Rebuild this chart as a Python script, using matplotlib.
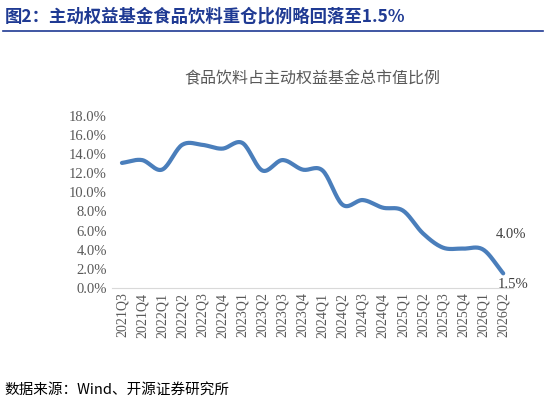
import numpy as np
import matplotlib
matplotlib.use("Agg")
import matplotlib.pyplot as plt
from matplotlib.ticker import FuncFormatter

quarters = ["2021Q3","2021Q4","2022Q1","2022Q2","2022Q3","2022Q4","2023Q1","2023Q2","2023Q3","2023Q4",
            "2024Q1","2024Q2","2024Q3","2024Q4","2025Q1","2025Q2","2025Q3","2025Q4","2026Q1","2026Q2"]
share = [13.1, 13.4, 12.4, 15.0, 15.0, 14.6, 15.2, 12.3, 13.4, 12.4,
         12.3, 8.7, 9.2, 8.4, 8.1, 5.7, 4.2, 4.1, 4.0, 1.5]

plt.rcParams['font.family'] = ['Liberation Serif', 'Noto Sans CJK SC']
fig = plt.figure(figsize=(5.46, 4.08), dpi=100)
fig.text(0.008, 0.96, "图2：主动权益基金食品饮料重仓比例略回落至1.5%", color="#1f3a93",
         fontsize=12.5, fontweight="bold", family=['Noto Sans CJK SC'], va="center")
fig.add_artist(plt.Line2D([0.005, 0.995], [0.925, 0.925], color="#1f3a93", lw=1.2))
fig.text(0.008, 0.045, "数据来源：Wind、开源证券研究所", fontsize=10.5, family=['Noto Sans CJK SC'], va="center")

ax = fig.add_axes([0.205, 0.295, 0.735, 0.42])
x = np.arange(len(share))
y = np.array(share)
xs, ys = [], []
m = np.gradient(y)
for i in range(len(y)-1):
    t = np.linspace(0, 1, 20)
    h00 = 2*t**3-3*t**2+1; h10 = t**3-2*t**2+t; h01 = -2*t**3+3*t**2; h11 = t**3-t**2
    ys.extend(h00*y[i]+h10*m[i]+h01*y[i+1]+h11*m[i+1]); xs.extend(x[i]+t)
ax.plot(xs, ys, color="#4a7ebb", lw=3, solid_capstyle="round")
ax.set_ylim(0, 18)
ax.set_yticks(np.arange(0, 18.1, 2))
ax.yaxis.set_major_formatter(FuncFormatter(lambda v, p: f"{v:.1f}%"))
ax.set_xlim(-0.5, len(share)-0.5)
ax.set_xticks(x)
ax.set_xticklabels(quarters, rotation=90, color="#595959", fontsize=10)
ax.tick_params(axis='y', labelsize=10.5, labelcolor="#595959", length=0)
ax.tick_params(axis='x', length=0)
for s in ["top", "right", "left"]:
    ax.spines[s].set_visible(False)
ax.spines["bottom"].set_color("#d9d9d9")
ax.set_title("食品饮料占主动权益基金总市值比例", family=['Noto Sans CJK SC'], fontsize=11.5,
             color="#595959", pad=24)
ax.annotate(f"{share[-2]:.1f}%", (x[-2], share[-2]), xytext=(20, 11), textcoords="offset points",
            fontsize=10.5, color="#404040", va="center", ha="center")
ax.annotate(f"{share[-1]:.1f}%", (x[-1], share[-1]), xytext=(-4, -8), textcoords="offset points",
            fontsize=10.5, color="#404040", va="center")
fig.savefig("out.png", dpi=100)
